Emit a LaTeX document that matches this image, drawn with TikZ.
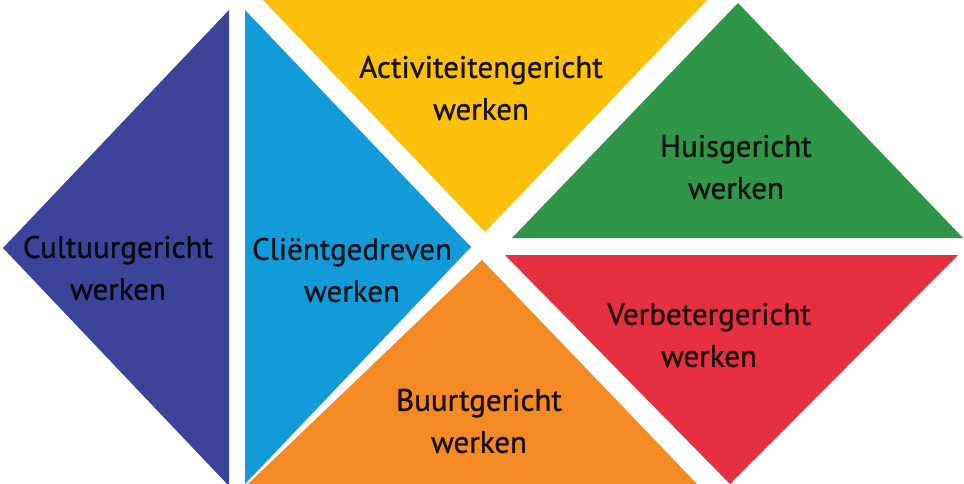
\documentclass[tikz,border=0pt]{standalone}
\usepackage{fontspec}
\newfontfamily\lblfont[FakeBold=0.9]{PT Sans}
\definecolor{cdark}{HTML}{3B4498}
\definecolor{clight}{HTML}{119BD9}
\definecolor{cyel}{HTML}{FDC10B}
\definecolor{cgreen}{HTML}{2F9548}
\definecolor{cred}{HTML}{E72F42}
\definecolor{corange}{HTML}{F48A24}
\begin{document}
\begin{tikzpicture}[x=1pt,y=-1pt,
  lbl/.style={align=center,inner sep=0pt,font=\lblfont\fontsize{31}{42}\selectfont}]
\useasboundingbox (0,0) rectangle (964,484);
\fill[white] (0,0) rectangle (964,484);
% triangles
\fill[cdark]   (229,10) -- (3,248) -- (229,486) -- cycle;
\fill[clight]  (245,10) -- (471,247) -- (245,484) -- cycle;
\fill[cyel]    (263,0) -- (707,0) -- (485,232) -- cycle;
\fill[cgreen]  (738,3) -- (963,238) -- (512,238) -- cycle;
\fill[cred]    (505,255) -- (958,255) -- (730,484) -- cycle;
\fill[corange] (482,260) -- (697,484) -- (248,484) -- cycle;
% labels
\node[lbl,text=cdark!12!black]   (cult)  at (118,268) {Cultuurgericht\\werken};
\node[lbl,text=clight!12!black]  (clie)  at (352,270) {Cliëntgedreven\\werken};
\node[lbl,text=cyel!10!black]    (acti)  at (481,88) {Activiteitengericht\\werken};
\node[lbl,text=cgreen!12!black]  (huis)  at (736,167) {Huisgericht\\werken};
\node[lbl,text=cred!12!black]    (verb)  at (709,335) {Verbetergericht\\werken};
\node[lbl,text=corange!10!black] (buurt) at (479,421) {Buurtgericht\\werken};
\end{tikzpicture}
\end{document}
